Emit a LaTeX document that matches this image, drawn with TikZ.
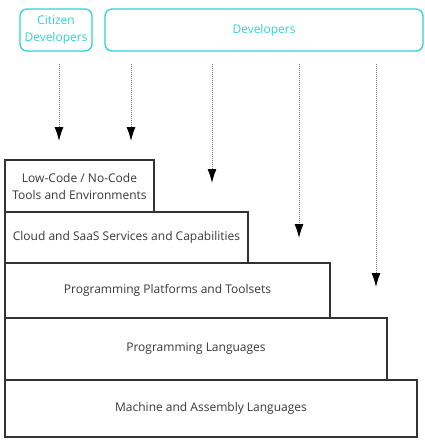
\documentclass[tikz,border=0pt]{standalone}
\usepackage{fontspec}
\setmainfont{Open Sans}
\usetikzlibrary{arrows.meta}
\definecolor{devcyan}{HTML}{2ED3D8}
\definecolor{layergray}{HTML}{333333}
\definecolor{labelgray}{HTML}{383838}

\begin{document}
\begin{tikzpicture}[x=1pt,y=-1pt,
        every node/.style={font=\fontsize{12}{17}\selectfont},
        role/.style={draw=devcyan, line width=1.3pt, rounded corners=7pt,
            text=devcyan, align=center, inner sep=0pt, minimum height=42pt},
        layer/.style={draw=layergray, line width=1.1pt, text=labelgray,
            align=center, inner sep=0pt},
        flow/.style={black!55, line width=1pt, dash pattern=on 1pt off 1pt,
            -{Latex[length=14pt,width=9pt,color=black]}}
    ]
    \useasboundingbox (0,0) rectangle (425,444);

    \node[role, minimum width=72pt] (citizen) at (56,30) {Citizen\\Developers};
    \node[role, minimum width=318pt] (devs) at (264,30) {Developers};

    \node[layer, minimum width=149pt, minimum height=52pt] (lowcode) at (79.5,186)
        {Low-Code / No-Code\\Tools and Environments};
    \node[layer, minimum width=243pt, minimum height=51pt] (cloud) at (126.5,237.5)
        {Cloud and SaaS Services and Capabilities};
    \node[layer, minimum width=325pt, minimum height=55pt] (platforms) at (167.5,290.5)
        {Programming Platforms and Toolsets};
    \node[layer, minimum width=382pt, minimum height=62pt] (languages) at (196,349)
        {Programming Languages};
    \node[layer, minimum width=412pt, minimum height=57pt] (machine) at (211,408.5)
        {Machine and Assembly Languages};

    \foreach \x/\y [count=\i] in {59/141,131/141,212/183,299/238,376/287}{
        \coordinate (from\i) at (\x,64);
        \coordinate (to\i) at (\x,\y);
        \draw[flow] (from\i) -- (to\i);
    }
\end{tikzpicture}
\end{document}
